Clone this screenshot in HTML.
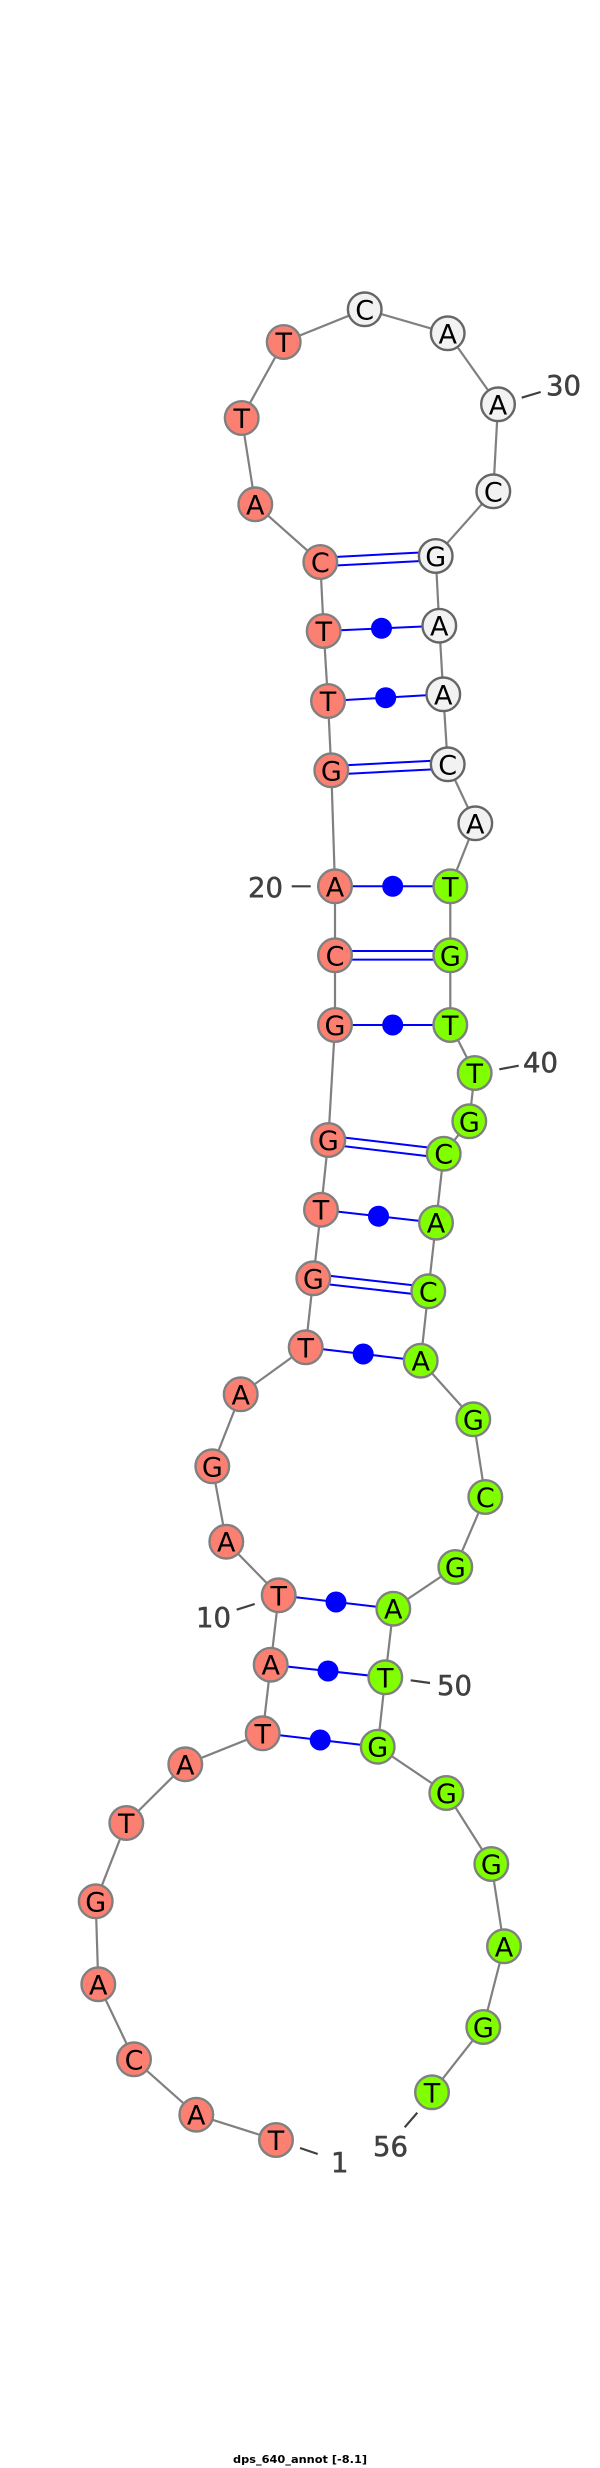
<!DOCTYPE html>
<html><head><meta charset="utf-8"><style>html,body{margin:0;padding:0;background:#fff}svg{display:block}
.n text{font:27px "DejaVu Sans",sans-serif;fill:#000;text-anchor:middle}
.n circle{stroke-width:2.4}
.r circle{fill:#fb8072;stroke:#808080}.g circle{fill:#7fff00;stroke:#808080}.w circle{fill:#f2f2f2;stroke:#666}
.l{font:27.5px "DejaVu Sans",sans-serif;fill:#404040;stroke:#404040;stroke-width:.5}
</style></head><body>
<svg width="600" height="2468" viewBox="0 0 600 2468" xmlns="http://www.w3.org/2000/svg">
<rect width="600" height="2468" fill="#fff"/>
<polyline fill="none" stroke="#808080" stroke-width="2.2" points="276,2140 196.3,2114.7 134,2059.3 98.3,1984.3 95.7,1901.3 126.3,1823 185.3,1764.3 262.7,1733.3 270.7,1664.7 278.7,1595.3 226.3,1541.7 212.3,1466.3 240.7,1394.3 305.7,1347.3 313.3,1278.3 321,1209.7 328.3,1140 335,1025 335,955.3 335,886.3 331.3,770.3 328,701 323.7,631 320.3,562 255.3,504.3 241.7,418 283.7,342 364.7,309.3 447.7,333.3 498,404.3 493.3,491.3 435.7,556 439.3,625.7 443.3,694.3 447.7,764.3 475.3,823.3 450.3,886.3 450.3,955.3 450.3,1025 474.7,1073 469.3,1121.3 443.7,1153.7 436,1222.7 428.3,1291.3 420.7,1360.7 473.3,1419.3 485.3,1497 455.3,1567 393.3,1608.7 385.3,1677.3 377.7,1746.7 446.3,1793 491.3,1864 504,1946.3 483.3,2027 432,2092.3"/>
<g stroke="#0000ff" stroke-width="2" fill="none">
<line x1="320.1" y1="557.7" x2="435.5" y2="551.7"/><line x1="320.5" y1="566.3" x2="435.9" y2="560.3"/>
<line x1="331.1" y1="766" x2="447.5" y2="760"/><line x1="331.5" y1="774.6" x2="447.9" y2="768.6"/>
<line x1="335" y1="951" x2="450.3" y2="951"/><line x1="335" y1="959.6" x2="450.3" y2="959.6"/>
<line x1="328.8" y1="1135.7" x2="444.2" y2="1149.4"/><line x1="327.8" y1="1144.3" x2="443.2" y2="1158"/>
<line x1="313.8" y1="1274" x2="428.8" y2="1287"/><line x1="312.8" y1="1282.6" x2="427.8" y2="1295.6"/>
<line x1="323.7" y1="631" x2="439.3" y2="625.7"/>
<line x1="328" y1="701" x2="443.3" y2="694.3"/>
<line x1="335" y1="886.3" x2="450.3" y2="886.3"/>
<line x1="335" y1="1025" x2="450.3" y2="1025"/>
<line x1="321" y1="1209.7" x2="436" y2="1222.7"/>
<line x1="305.7" y1="1347.3" x2="420.7" y2="1360.7"/>
<line x1="278.7" y1="1595.3" x2="393.3" y2="1608.7"/>
<line x1="270.7" y1="1664.7" x2="385.3" y2="1677.3"/>
<line x1="262.7" y1="1733.3" x2="377.7" y2="1746.7"/>
</g>
<g fill="#0000ff">
<circle cx="381.5" cy="628.3" r="10.5"/><circle cx="385.7" cy="697.7" r="10.5"/><circle cx="392.7" cy="886.3" r="10.5"/><circle cx="392.7" cy="1025" r="10.5"/><circle cx="378.5" cy="1216.2" r="10.5"/><circle cx="363.2" cy="1354" r="10.5"/><circle cx="336" cy="1602" r="10.5"/><circle cx="328" cy="1671" r="10.5"/><circle cx="320.2" cy="1740" r="10.5"/>
</g>
<g class="n r">
<circle cx="276" cy="2140" r="16.8"/><text x="276" y="2150">T</text>
<circle cx="196.3" cy="2114.7" r="16.8"/><text x="196.3" y="2124.7">A</text>
<circle cx="134" cy="2059.3" r="16.8"/><text x="134" y="2069.3">C</text>
<circle cx="98.3" cy="1984.3" r="16.8"/><text x="98.3" y="1994.3">A</text>
<circle cx="95.7" cy="1901.3" r="16.8"/><text x="95.7" y="1911.3">G</text>
<circle cx="126.3" cy="1823" r="16.8"/><text x="126.3" y="1833">T</text>
<circle cx="185.3" cy="1764.3" r="16.8"/><text x="185.3" y="1774.3">A</text>
<circle cx="262.7" cy="1733.3" r="16.8"/><text x="262.7" y="1743.3">T</text>
<circle cx="270.7" cy="1664.7" r="16.8"/><text x="270.7" y="1674.7">A</text>
<circle cx="278.7" cy="1595.3" r="16.8"/><text x="278.7" y="1605.3">T</text>
<circle cx="226.3" cy="1541.7" r="16.8"/><text x="226.3" y="1551.7">A</text>
<circle cx="212.3" cy="1466.3" r="16.8"/><text x="212.3" y="1476.3">G</text>
<circle cx="240.7" cy="1394.3" r="16.8"/><text x="240.7" y="1404.3">A</text>
<circle cx="305.7" cy="1347.3" r="16.8"/><text x="305.7" y="1357.3">T</text>
<circle cx="313.3" cy="1278.3" r="16.8"/><text x="313.3" y="1288.3">G</text>
<circle cx="321" cy="1209.7" r="16.8"/><text x="321" y="1219.7">T</text>
<circle cx="328.3" cy="1140" r="16.8"/><text x="328.3" y="1150">G</text>
<circle cx="335" cy="1025" r="16.8"/><text x="335" y="1035">G</text>
<circle cx="335" cy="955.3" r="16.8"/><text x="335" y="965.3">C</text>
<circle cx="335" cy="886.3" r="16.8"/><text x="335" y="896.3">A</text>
<circle cx="331.3" cy="770.3" r="16.8"/><text x="331.3" y="780.3">G</text>
<circle cx="328" cy="701" r="16.8"/><text x="328" y="711">T</text>
<circle cx="323.7" cy="631" r="16.8"/><text x="323.7" y="641">T</text>
<circle cx="320.3" cy="562" r="16.8"/><text x="320.3" y="572">C</text>
<circle cx="255.3" cy="504.3" r="16.8"/><text x="255.3" y="514.3">A</text>
<circle cx="241.7" cy="418" r="16.8"/><text x="241.7" y="428">T</text>
<circle cx="283.7" cy="342" r="16.8"/><text x="283.7" y="352">T</text>
</g>
<g class="n w">
<circle cx="364.7" cy="309.3" r="16.8"/><text x="364.7" y="319.3">C</text>
<circle cx="447.7" cy="333.3" r="16.8"/><text x="447.7" y="343.3">A</text>
<circle cx="498" cy="404.3" r="16.8"/><text x="498" y="414.3">A</text>
<circle cx="493.3" cy="491.3" r="16.8"/><text x="493.3" y="501.3">C</text>
<circle cx="435.7" cy="556" r="16.8"/><text x="435.7" y="566">G</text>
<circle cx="439.3" cy="625.7" r="16.8"/><text x="439.3" y="635.7">A</text>
<circle cx="443.3" cy="694.3" r="16.8"/><text x="443.3" y="704.3">A</text>
<circle cx="447.7" cy="764.3" r="16.8"/><text x="447.7" y="774.3">C</text>
<circle cx="475.3" cy="823.3" r="16.8"/><text x="475.3" y="833.3">A</text>
</g>
<g class="n g">
<circle cx="450.3" cy="886.3" r="16.8"/><text x="450.3" y="896.3">T</text>
<circle cx="450.3" cy="955.3" r="16.8"/><text x="450.3" y="965.3">G</text>
<circle cx="450.3" cy="1025" r="16.8"/><text x="450.3" y="1035">T</text>
<circle cx="474.7" cy="1073" r="16.8"/><text x="474.7" y="1083">T</text>
<circle cx="469.3" cy="1121.3" r="16.8"/><text x="469.3" y="1131.3">G</text>
<circle cx="443.7" cy="1153.7" r="16.8"/><text x="443.7" y="1163.7">C</text>
<circle cx="436" cy="1222.7" r="16.8"/><text x="436" y="1232.7">A</text>
<circle cx="428.3" cy="1291.3" r="16.8"/><text x="428.3" y="1301.3">C</text>
<circle cx="420.7" cy="1360.7" r="16.8"/><text x="420.7" y="1370.7">A</text>
<circle cx="473.3" cy="1419.3" r="16.8"/><text x="473.3" y="1429.3">G</text>
<circle cx="485.3" cy="1497" r="16.8"/><text x="485.3" y="1507">C</text>
<circle cx="455.3" cy="1567" r="16.8"/><text x="455.3" y="1577">G</text>
<circle cx="393.3" cy="1608.7" r="16.8"/><text x="393.3" y="1618.7">A</text>
<circle cx="385.3" cy="1677.3" r="16.8"/><text x="385.3" y="1687.3">T</text>
<circle cx="377.7" cy="1746.7" r="16.8"/><text x="377.7" y="1756.7">G</text>
<circle cx="446.3" cy="1793" r="16.8"/><text x="446.3" y="1803">G</text>
<circle cx="491.3" cy="1864" r="16.8"/><text x="491.3" y="1874">G</text>
<circle cx="504" cy="1946.3" r="16.8"/><text x="504" y="1956.3">A</text>
<circle cx="483.3" cy="2027" r="16.8"/><text x="483.3" y="2037">G</text>
<circle cx="432" cy="2092.3" r="16.8"/><text x="432" y="2102.3">T</text>
</g>
<g stroke="#404040" stroke-width="2.2">
<line x1="521.7" y1="397.7" x2="540.7" y2="392"/>
<line x1="291.7" y1="886.3" x2="310.7" y2="886.3"/>
<line x1="499.3" y1="1069.3" x2="518.7" y2="1065.7"/>
<line x1="236.7" y1="1609.7" x2="254.7" y2="1604"/>
<line x1="410.7" y1="1680.3" x2="430" y2="1683"/>
<line x1="300" y1="2148" x2="317.7" y2="2154"/>
<line x1="404.7" y1="2127.3" x2="417.3" y2="2112.7"/>
</g>
<text class="l" x="546" y="395">30</text>
<text class="l" x="248" y="897">20</text>
<text class="l" x="523" y="1072">40</text>
<text class="l" x="196" y="1627">10</text>
<text class="l" x="437" y="1695">50</text>
<text class="l" x="331" y="2172">1</text>
<text class="l" x="373" y="2156">56</text>
<text x="233" y="2463" font-family="'DejaVu Sans',sans-serif" font-weight="bold" font-size="11" fill="#000" textLength="134" lengthAdjust="spacingAndGlyphs">dps_640_annot [-8.1]</text>
</svg>
</body></html>
